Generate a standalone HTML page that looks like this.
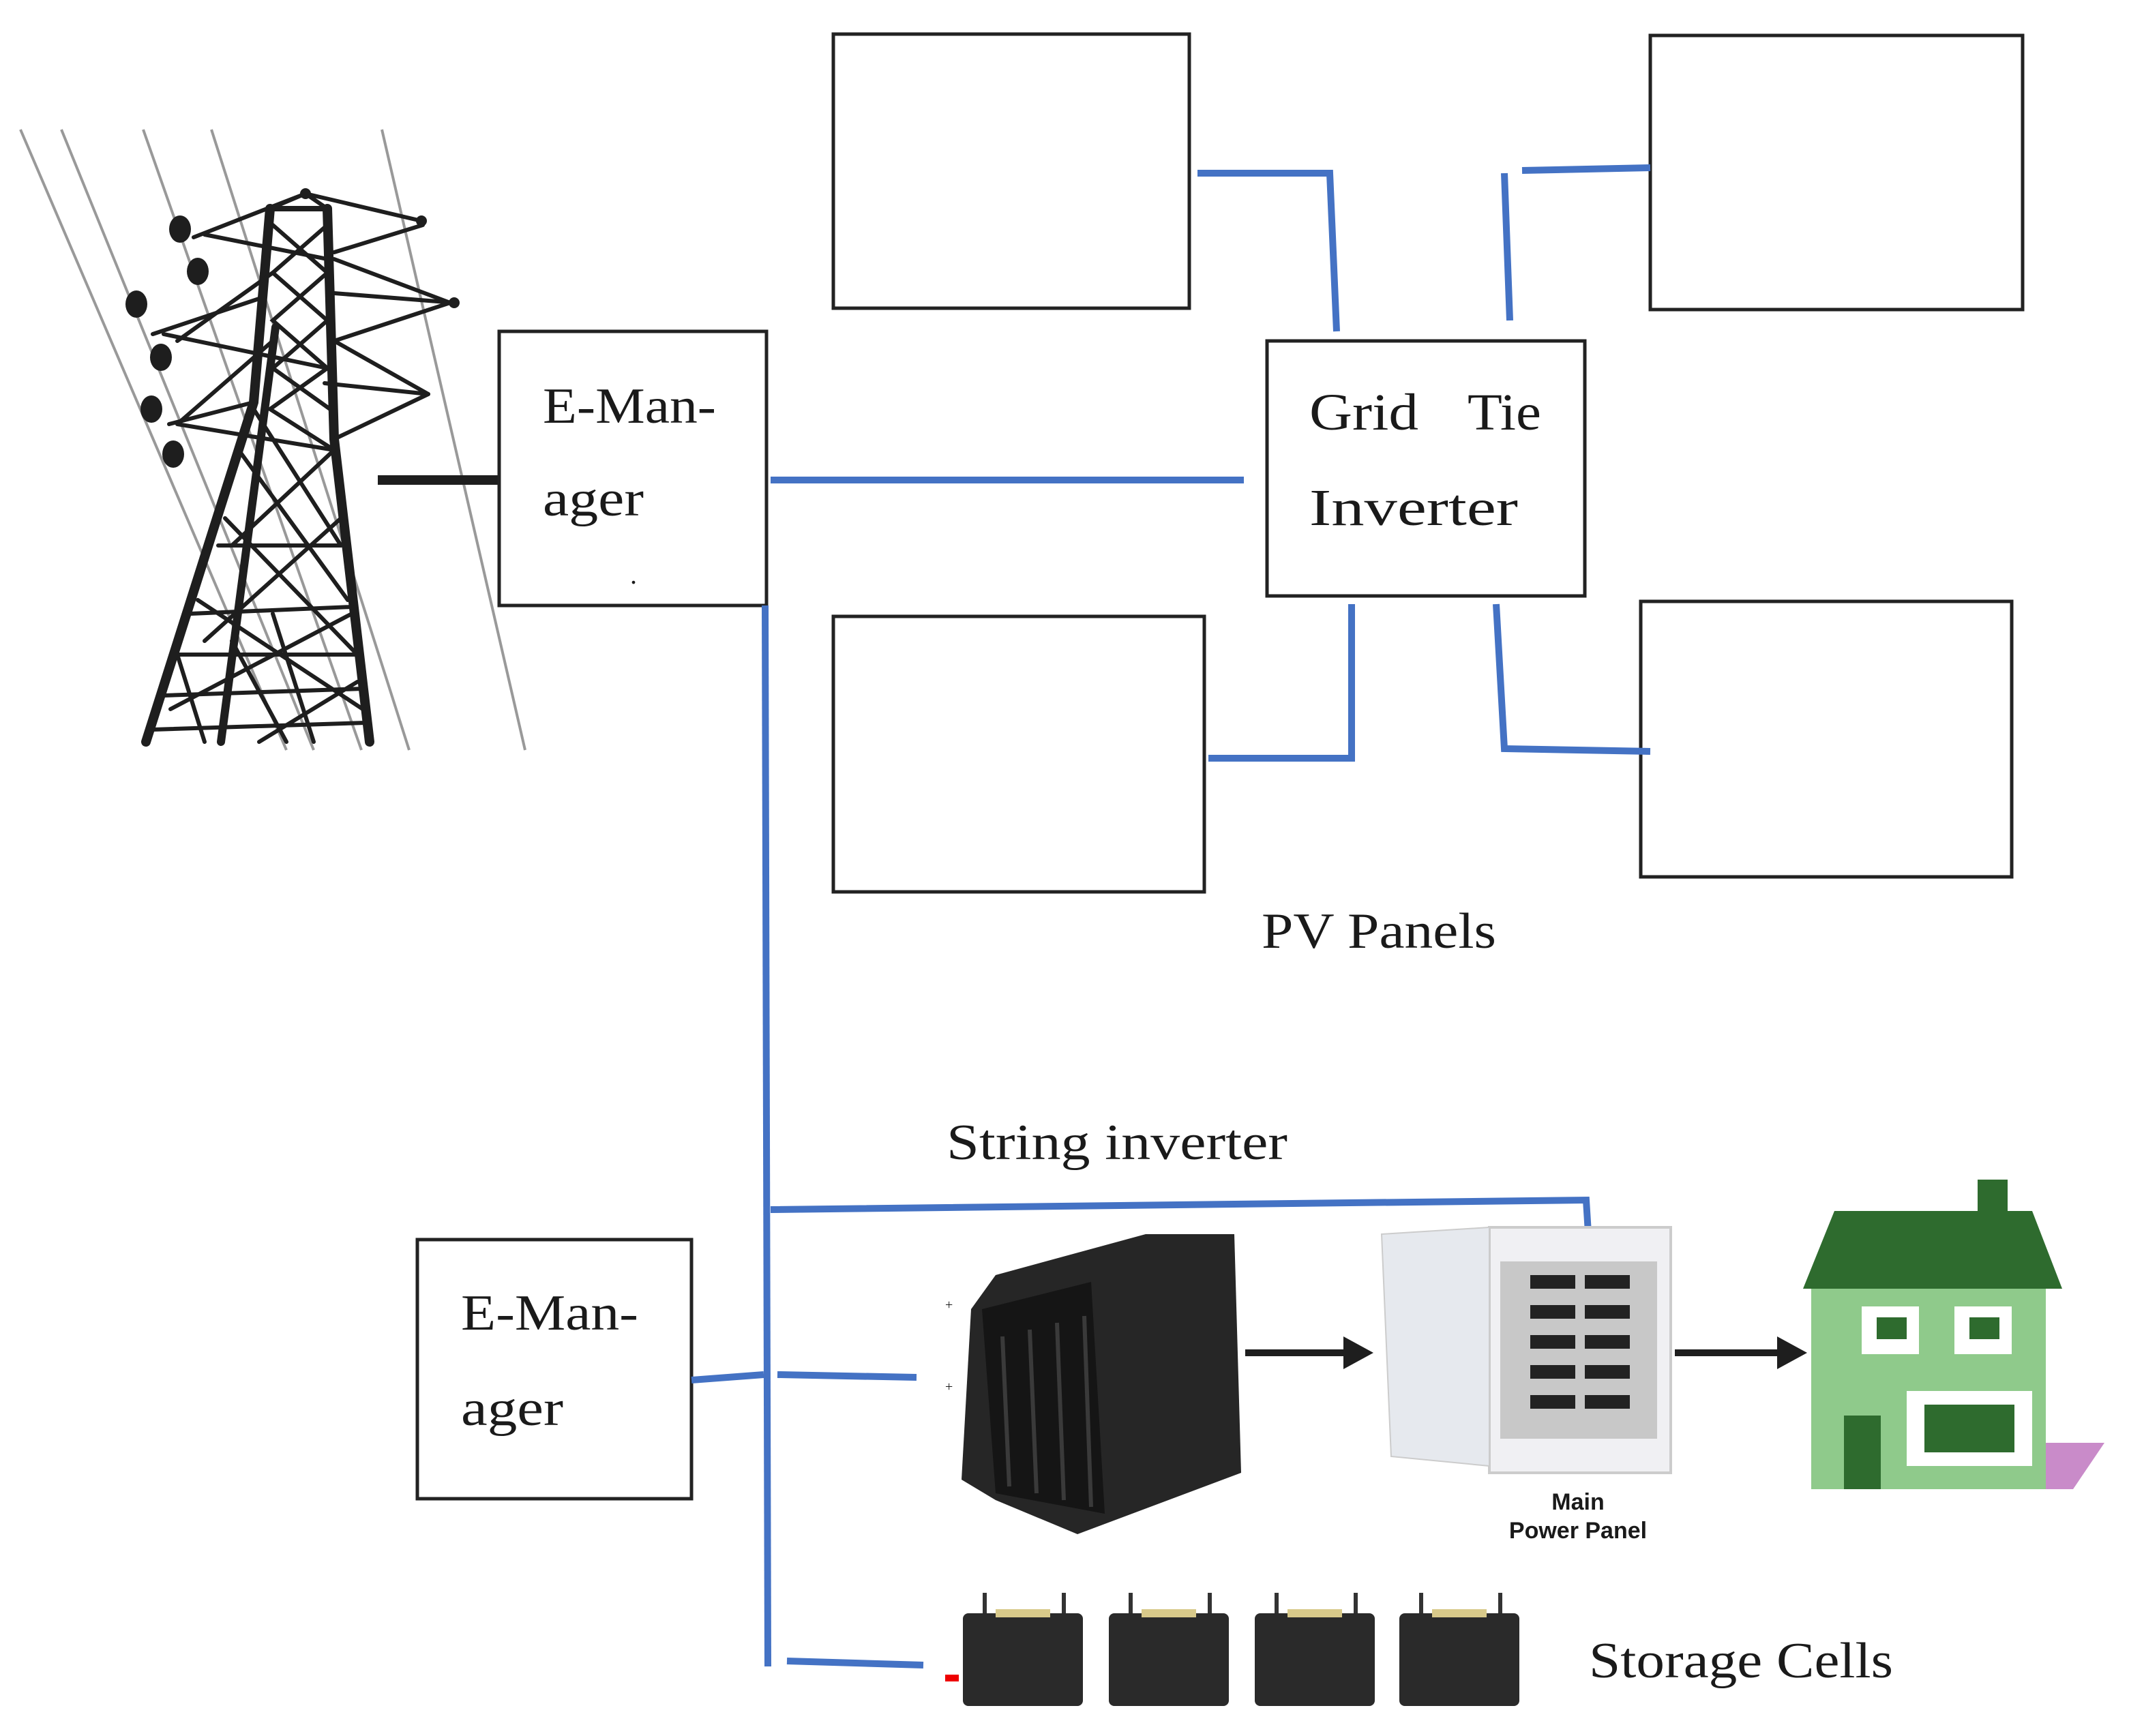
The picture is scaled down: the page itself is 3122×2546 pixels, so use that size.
<!DOCTYPE html>
<html><head><style>
html,body{margin:0;padding:0;background:#fff;}
svg{display:block;}
text{font-family:"Liberation Serif",serif;fill:#1a1a1a;}
</style></head><body>
<svg width="3122" height="2546" viewBox="0 0 1561 1273" xmlns="http://www.w3.org/2000/svg">
<rect width="1561" height="1273" fill="#fff"/>
<!-- Tower wires -->
<g stroke="#999" stroke-width="2" fill="none">
<line x1="15" y1="95" x2="210" y2="550"/>
<line x1="45" y1="95" x2="230" y2="550"/>
<line x1="105" y1="95" x2="265" y2="550"/>
<line x1="155" y1="95" x2="300" y2="550"/>
<line x1="280" y1="95" x2="385" y2="550"/>
</g>
<!-- Tower -->
<g stroke="#1e1e1e" fill="none" stroke-linecap="round">
<path d="M198 153 L186 295 L107 544" stroke-width="7"/>
<path d="M202 240 L162 544" stroke-width="6"/>
<path d="M240 153 L245 322 L271 544" stroke-width="7"/>
<path d="M198 153 L240 153" stroke-width="4"/>
<g stroke-width="3">
<path d="M224 142 L142 174 M224 142 L309 162 M198 153 L224 142 L240 153"/>
<path d="M245 215 L333 222 M193 218 L112 245 M186 295 L124 311 M238 281 L314 289"/>
<path d="M150 172 L240 190 M245 185 L310 165 M245 190 L330 222 M245 250 L330 222"/>
<path d="M120 245 L240 270 M130 250 L200 200 M245 250 L314 289 M245 322 L314 289"/>
<path d="M130 311 L200 250 M130 311 L245 330"/>
<path d="M200 165 L240 200 L200 235 L240 270 L198 300 L245 330"/>
<path d="M240 165 L200 200 L240 235 L200 270 L242 300"/>
<path d="M186 300 L250 400 M175 330 L255 440 M165 380 L262 480 M145 440 L266 520"/>
<path d="M245 330 L170 400 M250 380 L150 470 M258 450 L125 520 M262 500 L190 544"/>
<path d="M160 400 L250 400 M140 450 L258 445 M130 480 L262 480 M120 510 L266 505 M112 535 L268 530"/>
<path d="M130 480 L150 544 M170 470 L210 544 M200 450 L230 544"/>
</g>
</g>
<g fill="#1e1e1e">
<ellipse cx="132" cy="168" rx="8" ry="10"/>
<ellipse cx="145" cy="199" rx="8" ry="10"/>
<ellipse cx="100" cy="223" rx="8" ry="10"/>
<ellipse cx="118" cy="262" rx="8" ry="10"/>
<ellipse cx="111" cy="300" rx="8" ry="10"/>
<ellipse cx="127" cy="333" rx="8" ry="10"/>
<circle cx="224" cy="142" r="4"/>
<circle cx="309" cy="162" r="4"/>
<circle cx="333" cy="222" r="4"/>
</g>
<line x1="277" y1="352" x2="366" y2="352" stroke="#1e1e1e" stroke-width="7"/>

<!-- Boxes -->
<g fill="#fff" stroke="#222" stroke-width="2.5">
<rect x="611" y="25" width="261" height="201"/>
<rect x="1210" y="26" width="273" height="201"/>
<rect x="929" y="250" width="233" height="187"/>
<rect x="611" y="452" width="272" height="202"/>
<rect x="1203" y="441" width="272" height="202"/>
<rect x="366" y="243" width="196" height="201"/>
<rect x="306" y="909" width="201" height="190"/>
</g>

<!-- Blue connectors -->
<g stroke="#4472c4" stroke-width="5" fill="none">
<path d="M878 127 L975 127 L980 243"/>
<path d="M1116 125 L1210 123"/>
<path d="M1103 127 L1107 235"/>
<path d="M565 352 L912 352"/>
<path d="M991 443 L991 556 L886 556"/>
<path d="M1097 443 L1103 549 L1210 551"/>
<path d="M561 444 L563 1222"/>
<path d="M565 887 L1163 880 L1165 912"/>
<path d="M507 1012 L560 1008"/>
<path d="M570 1008 L672 1010"/>
<path d="M577 1218 L677 1221"/>
</g>

<!-- Texts -->
<g lengthAdjust="spacingAndGlyphs">
<text x="398" y="310" font-size="37" textLength="127" lengthAdjust="spacingAndGlyphs">E-Man-</text>
<text x="398" y="378" font-size="37" textLength="74" lengthAdjust="spacingAndGlyphs">ager</text>
<text x="462" y="428" font-size="20">.</text>
<text x="960" y="315" font-size="38" textLength="80" lengthAdjust="spacingAndGlyphs">Grid</text>
<text x="1076" y="315" font-size="38" textLength="54" lengthAdjust="spacingAndGlyphs">Tie</text>
<text x="960" y="385" font-size="38" textLength="153" lengthAdjust="spacingAndGlyphs">Inverter</text>
<text x="925" y="695" font-size="37" textLength="172" lengthAdjust="spacingAndGlyphs">PV Panels</text>
<text x="694" y="850" font-size="37" textLength="250" lengthAdjust="spacingAndGlyphs">String inverter</text>
<text x="338" y="975" font-size="37" textLength="130" lengthAdjust="spacingAndGlyphs">E-Man-</text>
<text x="338" y="1045" font-size="37" textLength="75" lengthAdjust="spacingAndGlyphs">ager</text>
<text x="1165" y="1230" font-size="37" textLength="223" lengthAdjust="spacingAndGlyphs">Storage Cells</text>
</g>

<!-- Inverter device -->
<g>
<path d="M730 935 L840 905 L905 905 L910 1080 L790 1125 L730 1100 L705 1085 L712 960 Z" fill="#262626"/>
<path d="M720 960 L800 940 L810 1110 L730 1095 Z" fill="#151515"/>
<g stroke="#3a3a3a" stroke-width="3">
<line x1="735" y1="980" x2="740" y2="1090"/><line x1="755" y1="975" x2="760" y2="1095"/><line x1="775" y1="970" x2="780" y2="1100"/><line x1="795" y1="965" x2="800" y2="1105"/>
</g>
<text x="693" y="960" font-size="10" fill="#555">+</text>
<text x="693" y="1020" font-size="10" fill="#c44">+</text>
</g>
<!-- arrows -->
<g stroke="#1e1e1e" stroke-width="5">
<line x1="913" y1="992" x2="990" y2="992"/>
<line x1="1228" y1="992" x2="1308" y2="992"/>
</g>
<polygon points="985,980 1007,992 985,1004" fill="#1e1e1e"/>
<polygon points="1303,980 1325,992 1303,1004" fill="#1e1e1e"/>
<!-- Power panel -->
<rect x="1092" y="900" width="133" height="180" fill="#f0f0f3" stroke="#ccc" stroke-width="2"/>
<rect x="1100" y="925" width="115" height="130" fill="#c8c8c8"/>
<path d="M1013 905 L1092 900 L1092 1075 L1020 1068 Z" fill="#e6e9ee" stroke="#ccc"/>
<g fill="#222">
<rect x="1122" y="935" width="33" height="10"/><rect x="1162" y="935" width="33" height="10"/>
<rect x="1122" y="957" width="33" height="10"/><rect x="1162" y="957" width="33" height="10"/>
<rect x="1122" y="979" width="33" height="10"/><rect x="1162" y="979" width="33" height="10"/>
<rect x="1122" y="1001" width="33" height="10"/><rect x="1162" y="1001" width="33" height="10"/>
<rect x="1122" y="1023" width="33" height="10"/><rect x="1162" y="1023" width="33" height="10"/>
</g>
<text x="1157" y="1107" font-size="17" font-weight="bold" text-anchor="middle" fill="#333" style="font-family:'Liberation Sans',sans-serif">Main</text>
<text x="1157" y="1128" font-size="17" font-weight="bold" text-anchor="middle" fill="#333" style="font-family:'Liberation Sans',sans-serif">Power Panel</text>
<!-- House -->
<rect x="1450" y="865" width="22" height="28" fill="#2e6b2e"/>
<polygon points="1345,888 1490,888 1512,945 1322,945" fill="#2e6b2e"/>
<rect x="1328" y="945" width="172" height="147" fill="#8fca8b"/>
<polygon points="1500,1058 1543,1058 1520,1092 1500,1092" fill="#c98bc9"/>
<rect x="1365" y="958" width="42" height="35" fill="#fff"/><rect x="1376" y="966" width="22" height="16" fill="#2e6b2e"/>
<rect x="1433" y="958" width="42" height="35" fill="#fff"/><rect x="1444" y="966" width="22" height="16" fill="#2e6b2e"/>
<rect x="1398" y="1020" width="92" height="55" fill="#fff"/><rect x="1411" y="1030" width="66" height="35" fill="#2e6b2e"/>
<rect x="1352" y="1038" width="27" height="54" fill="#2e6b2e"/>
<!-- Batteries -->
<g>
<g fill="#2a2a2a">
<rect x="706" y="1183" width="88" height="68" rx="4"/>
<rect x="813" y="1183" width="88" height="68" rx="4"/>
<rect x="920" y="1183" width="88" height="68" rx="4"/>
<rect x="1026" y="1183" width="88" height="68" rx="4"/>
</g>
<g fill="#d8c98a">
<rect x="730" y="1180" width="40" height="6"/><rect x="837" y="1180" width="40" height="6"/><rect x="944" y="1180" width="40" height="6"/><rect x="1050" y="1180" width="40" height="6"/>
</g>
<g stroke="#333" stroke-width="3">
<line x1="722" y1="1168" x2="722" y2="1183"/><line x1="780" y1="1168" x2="780" y2="1183"/>
<line x1="829" y1="1168" x2="829" y2="1183"/><line x1="887" y1="1168" x2="887" y2="1183"/>
<line x1="936" y1="1168" x2="936" y2="1183"/><line x1="994" y1="1168" x2="994" y2="1183"/>
<line x1="1042" y1="1168" x2="1042" y2="1183"/><line x1="1100" y1="1168" x2="1100" y2="1183"/>
</g>
<rect x="693" y="1228" width="10" height="5" fill="#e00"/>
</g>
</svg>
</body></html>
